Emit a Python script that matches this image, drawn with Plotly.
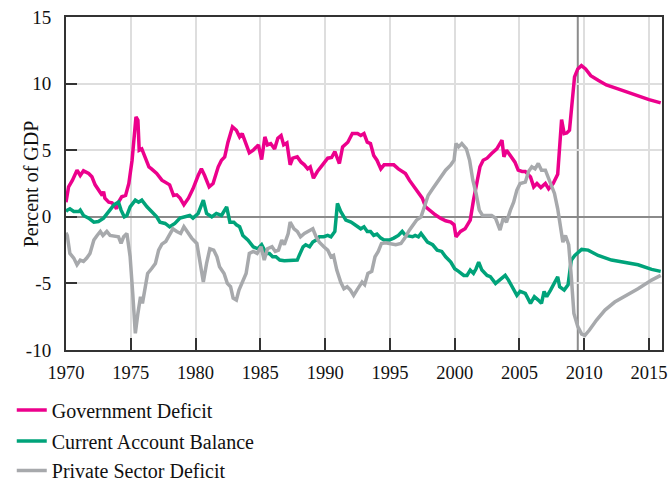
import plotly.graph_objects as go

# ---------------- data ----------------
gov_x = [1970.0, 1970.2, 1970.5, 1970.85, 1971.1, 1971.35, 1971.75, 1972.0, 1972.25, 1972.5,
         1972.8, 1972.9, 1973.0, 1973.3, 1973.55, 1973.8, 1973.9, 1974.05, 1974.3, 1974.6,
         1974.85, 1975.1, 1975.3, 1975.4, 1975.55, 1975.65, 1975.85, 1976.1, 1976.4, 1976.6,
         1977.0, 1977.4, 1977.7, 1978.0, 1978.3, 1978.55, 1978.8, 1979.1, 1979.45, 1979.8,
         1980.2, 1980.45, 1980.7, 1981.05, 1981.35, 1981.75, 1982.0, 1982.25, 1982.5, 1982.85,
         1983.15, 1983.4, 1983.6, 1983.9, 1984.15, 1984.45, 1984.85, 1985.1, 1985.35, 1985.55,
         1985.8, 1986.1, 1986.35, 1986.6, 1986.8, 1987.05, 1987.3, 1987.5, 1987.85, 1988.15,
         1988.4, 1988.65, 1988.85, 1989.1, 1989.4, 1989.8, 1990.2, 1990.5, 1990.75, 1991.1,
         1991.35, 1991.75, 1992.1, 1992.5, 1992.75, 1993.0, 1993.25, 1993.5, 1993.75, 1994.0,
         1994.3, 1994.55, 1994.9, 1995.3, 1995.65, 1995.95, 1996.2, 1996.5, 1996.85, 1997.25,
         1997.5, 1997.75, 1998.15, 1998.5, 1998.9, 1999.3, 1999.7, 1999.95, 2000.1, 2000.45,
         2000.8, 2001.2, 2001.45, 2001.7, 2001.95, 2002.2, 2002.5, 2002.85, 2003.25, 2003.65,
         2003.8, 2004.0, 2004.4, 2004.65, 2004.9, 2005.2, 2005.45, 2005.85, 2006.1, 2006.35,
         2006.65, 2007.0, 2007.25, 2007.6, 2007.95, 2008.1, 2008.25, 2008.45, 2008.65, 2008.86,
         2009.1, 2009.25, 2009.5, 2009.78, 2010.1, 2010.5, 2011.07, 2011.7, 2012.6, 2013.3,
         2014.15, 2015.0, 2015.9]
gov_y = [1.1, 2.25, 2.75, 3.5, 3.1, 3.45, 3.25, 3.0, 2.4, 2.0,
         1.6, 1.9, 1.4, 1.1, 1.05, 0.75, 0.6, 1.1, 1.5, 1.6,
         2.5, 4.25, 6.25, 7.5, 7.25, 5.0, 5.1, 4.5, 3.75, 3.6,
         3.25, 2.75, 2.6, 2.4, 1.6, 1.65, 1.4, 0.9, 1.4, 2.1,
         3.1, 3.6, 3.1, 2.25, 2.5, 3.75, 4.25, 4.5, 5.6, 6.75,
         6.5, 6.0, 6.25, 5.5, 4.8, 5.0, 5.4, 4.3, 6.0, 5.4,
         5.5, 5.1, 5.9, 6.1, 5.4, 5.55, 3.9, 4.4, 4.5, 4.1,
         3.9, 3.6, 3.75, 2.9, 3.4, 3.9, 4.4, 4.45, 4.9, 4.0,
         5.25, 5.6, 6.25, 6.25, 6.1, 6.25, 5.6, 5.5, 4.6, 4.25,
         3.6, 3.9, 3.9, 3.9, 3.6, 3.4, 3.25, 2.75, 2.25, 1.75,
         1.4, 0.75, 0.4, 0.15, -0.1, -0.3, -0.4, -0.6, -1.5, -1.1,
         -0.9, -0.25, 1.25, 2.5, 3.75, 4.25, 4.4, 4.75, 5.1, 5.75,
         4.5, 5.0, 4.5, 4.1, 3.5, 3.4, 3.4, 3.0, 2.25, 2.5,
         2.2, 2.5, 2.1, 2.5, 3.2, 5.0, 7.3, 6.25, 6.3, 6.5,
         9.0, 10.5, 11.1, 11.35, 11.1, 10.6, 10.25, 9.9, 9.6, 9.35,
         9.1, 8.8, 8.55]

ca_x = [1970.0, 1970.1, 1970.3, 1970.6, 1971.0, 1971.1, 1971.35, 1971.75, 1972.15, 1972.5,
        1972.9, 1973.3, 1973.7, 1974.05, 1974.25, 1974.5, 1974.7, 1974.95, 1975.35, 1975.6,
        1975.85, 1976.25, 1976.6, 1977.0, 1977.25, 1977.65, 1978.0, 1978.4, 1978.8, 1979.2,
        1979.55, 1979.8, 1980.2, 1980.6, 1980.85, 1981.25, 1981.6, 1982.0, 1982.4, 1982.65,
        1982.95, 1983.15, 1983.4, 1983.65, 1984.05, 1984.45, 1984.8, 1985.1, 1985.45, 1985.7,
        1985.95, 1986.2, 1986.5, 1986.85, 1987.4, 1987.85, 1988.0, 1988.3, 1988.5, 1988.8,
        1989.05, 1989.3, 1989.55, 1989.9, 1990.2, 1990.45, 1990.75, 1990.95, 1991.2, 1991.6,
        1992.0, 1992.4, 1992.75, 1993.0, 1993.25, 1993.5, 1993.75, 1994.0, 1994.3, 1994.55,
        1994.95, 1995.3, 1995.65, 1995.95, 1996.2, 1996.5, 1996.75, 1996.95, 1997.2, 1997.4,
        1997.65, 1997.9, 1998.3, 1998.65, 1999.0, 1999.3, 1999.7, 2000.0, 2000.3, 2000.7,
        2000.95, 2001.2, 2001.45, 2001.65, 2001.85, 2002.1, 2002.5, 2002.75, 2003.15, 2003.5,
        2003.9, 2004.15, 2004.5, 2004.8, 2005.05, 2005.45, 2005.85, 2006.15, 2006.45, 2006.7,
        2006.9, 2007.1, 2007.4, 2007.75, 2007.95, 2008.1, 2008.45, 2008.75, 2009.0, 2009.27,
        2009.8, 2010.3, 2011.07, 2012.1, 2013.1, 2014.15, 2015.2, 2015.9]
ca_y = [0.4, 0.5, 0.6, 0.4, 0.4, 0.5, 0.1, -0.1, -0.4, -0.35,
        -0.1, 0.4, 0.9, 1.1, 0.5, 0.0, 0.1, 0.75, 1.25, 1.1,
        1.25, 0.75, 0.4, 0.0, -0.4, -0.5, -0.75, -0.5, -0.1, 0.0,
        0.1, -0.1, 0.25, 1.25, 0.25, 0.0, 0.25, 0.1, 0.75, -0.4,
        -0.4, -0.6, -0.75, -1.4, -1.75, -2.25, -2.4, -2.1, -2.75, -2.75,
        -3.0, -3.0, -3.25, -3.3, -3.25, -3.25, -2.9, -2.25, -2.1, -2.25,
        -1.9, -1.75, -1.5, -1.5, -1.4, -1.5, -1.1, 1.0, 0.4, -0.25,
        -0.4, -0.7, -0.9, -0.75, -1.1, -1.1, -1.4, -1.3, -1.6, -1.75,
        -1.75, -1.6, -1.4, -1.1, -1.4, -1.45, -1.5, -1.4, -1.5, -1.25,
        -1.6, -1.9, -2.1, -2.5, -2.6, -3.0, -3.4, -3.9, -4.1, -4.4,
        -4.4, -4.0, -4.25, -3.9, -3.4, -4.0, -4.4, -4.5, -5.0, -4.75,
        -4.4, -4.75, -5.4, -5.9, -5.6, -5.75, -6.5, -6.0, -6.25, -6.5,
        -5.6, -6.0, -5.5, -4.9, -4.5, -5.25, -5.5, -5.1, -3.25, -2.9,
        -2.45, -2.5, -2.9, -3.25, -3.4, -3.6, -3.95, -4.1]

prv_x = [1970.0, 1970.1, 1970.3, 1970.6, 1970.85, 1971.1, 1971.35, 1971.6, 1971.85, 1972.15,
         1972.4, 1972.65, 1972.85, 1973.15, 1973.4, 1973.8, 1974.05, 1974.25, 1974.45, 1974.7,
         1974.95, 1975.15, 1975.35, 1975.55, 1975.75, 1975.9, 1976.1, 1976.3, 1976.6, 1976.9,
         1977.15, 1977.4, 1977.7, 1977.9, 1978.25, 1978.55, 1978.85, 1979.1, 1979.45, 1979.7,
         1980.1, 1980.35, 1980.6, 1980.85, 1981.1, 1981.4, 1981.65, 1981.85, 1982.2, 1982.45,
         1982.7, 1982.9, 1983.15, 1983.35, 1983.6, 1983.9, 1984.15, 1984.45, 1984.75, 1985.05,
         1985.3, 1985.55, 1985.9, 1986.15, 1986.4, 1986.65, 1986.85, 1987.15, 1987.3, 1987.6,
         1987.85, 1988.1, 1988.4, 1988.7, 1989.05, 1989.3, 1989.55, 1989.9, 1990.2, 1990.45,
         1990.65, 1990.9, 1991.2, 1991.45, 1991.7, 1991.95, 1992.2, 1992.45, 1992.6, 1992.85,
         1993.05, 1993.3, 1993.6, 1993.85, 1994.1, 1994.35, 1994.65, 1995.05, 1995.45, 1995.85,
         1996.15, 1996.5, 1996.75, 1997.05, 1997.4, 1997.65, 1997.95, 1998.3, 1998.65, 1999.0,
         1999.3, 1999.7, 1999.95, 2000.1, 2000.3, 2000.55, 2000.9, 2001.15, 2001.4, 2001.65,
         2001.9, 2002.15, 2002.5, 2002.85, 2003.15, 2003.5, 2003.75, 2004.0, 2004.3, 2004.55,
         2004.8, 2005.05, 2005.45, 2005.7, 2005.95, 2006.2, 2006.45, 2006.7, 2007.0, 2007.25,
         2007.5, 2007.7, 2007.95, 2008.15, 2008.35, 2008.55, 2008.8, 2009.0, 2009.2, 2009.5,
         2009.8, 2010.05, 2010.4, 2010.95, 2011.6, 2012.35, 2013.1, 2014.15, 2015.2, 2015.9]
prv_y = [-1.2, -1.4, -2.75, -3.1, -3.6, -3.25, -3.35, -3.1, -2.75, -1.75,
         -1.4, -1.1, -1.4, -1.1, -1.4, -1.45, -1.5, -2.0, -1.5, -1.25,
         -3.0, -5.75, -8.75, -7.25, -6.0, -6.5, -5.25, -4.25, -3.9, -3.5,
         -2.5, -2.05, -1.85, -1.5, -0.9, -1.1, -1.25, -0.75, -1.25, -1.6,
         -2.0, -3.5, -4.9, -3.5, -2.4, -2.5, -3.0, -3.75, -4.25, -5.0,
         -5.25, -6.1, -6.25, -5.5, -4.95, -4.25, -2.75, -2.6, -2.75, -2.25,
         -3.25, -2.4, -2.25, -2.6, -2.5, -1.75, -2.1, -1.25, -0.4, -0.9,
         -1.1, -1.5, -1.25, -1.1, -0.9, -1.5, -1.9, -2.25, -2.5, -3.0,
         -2.9, -4.0, -4.9, -5.4, -5.25, -5.5, -5.9, -5.5, -5.25, -4.9,
         -5.1, -4.25, -4.1, -3.0, -2.6, -2.0, -1.95, -2.0, -2.1, -2.0,
         -1.6, -1.0, -0.7, -0.25, 0.0, 0.75, 1.6, 2.1, 2.6, 3.0,
         3.5, 3.9, 4.25, 5.5, 5.25, 5.5, 5.1, 4.25, 2.75, 1.75,
         0.5, 0.1, 0.1, 0.1, -0.1, -1.0, -0.1, -0.4, 0.5, 1.1,
         2.0, 2.5, 2.6, 3.4, 3.75, 3.6, 4.0, 3.5, 3.5, 2.9,
         2.4, 1.75, 0.6, -0.75, -1.9, -1.4, -2.1, -4.5, -7.25, -8.25,
         -8.8, -8.9, -8.5, -7.75, -7.0, -6.4, -6.0, -5.4, -4.75, -4.4]

series_names = ["Government Deficit", "Current Account Balance", "Private Sector Deficit"]
series_colors = ["#ec008c", "#00a37a", "#a7a9ac"]
x_ticks = [1970, 1975, 1980, 1985, 1990, 1995, 2000, 2005, 2010, 2015]
y_ticks = [-10, -5, 0, 5, 10, 15]
y_title = "Percent of GDP"
marker_year = 2009.5

FONT = "Liberation Serif"

fig = go.Figure()
legend_ids = ["legend", "legend2", "legend3"]
for name, xs, ys, col, lg in zip(series_names, [gov_x, ca_x, prv_x], [gov_y, ca_y, prv_y],
                                 series_colors, legend_ids):
    fig.add_trace(go.Scatter(x=xs, y=ys, mode="lines", name=name,
                             line=dict(color=col, width=3.5), legend=lg))

fig.add_shape(type="line", xref="x", yref="paper", x0=marker_year, x1=marker_year,
              y0=0, y1=1, line=dict(color="#8c8c8c", width=2), layer="below")

fig.add_annotation(text=y_title, xref="paper", yref="paper", x=-0.059, y=0.5,
                   textangle=-90, showarrow=False, xanchor="center", yanchor="middle",
                   font=dict(family=FONT, size=20, color="#111"))

legend_common = dict(x=-0.091, xanchor="left", yanchor="middle", bgcolor="rgba(0,0,0,0)",
                     font=dict(family=FONT, size=20, color="#111"), borderwidth=0)
fig.update_layout(
    width=668, height=482,
    margin=dict(l=66, r=6, t=17, b=132, autoexpand=False),
    paper_bgcolor="white", plot_bgcolor="white",
    font=dict(family=FONT, size=19, color="#111"),
    legend=dict(y=-0.180, **legend_common),
    legend2=dict(y=-0.273, **legend_common),
    legend3=dict(y=-0.362, **legend_common),
    showlegend=True,
    xaxis=dict(range=[1970, 2016], tickvals=x_ticks, ticktext=[str(v) for v in x_ticks],
               ticks="inside", ticklen=12, tickwidth=2, tickcolor="#333",
               showline=True, mirror=True, linecolor="#333", linewidth=2,
               showgrid=True, gridcolor="#dedede", gridwidth=2, zeroline=False,
               ticklabelstandoff=5,
               tickfont=dict(family=FONT, size=18.5, color="#111")),
    yaxis=dict(range=[-10, 15], tickvals=y_ticks, ticktext=[str(v) for v in y_ticks],
               ticks="inside", ticklen=11, tickwidth=2, tickcolor="#333",
               showline=True, mirror=True, linecolor="#333", linewidth=2,
               showgrid=True, gridcolor="#dedede", gridwidth=2,
               zeroline=True, zerolinecolor="#8a8a8a", zerolinewidth=2,
               ticklabelstandoff=9,
               tickfont=dict(family=FONT, size=19, color="#111")),
)

fig.write_html("out.html", config={"displayModeBar": False},
               post_script="document.body.style.margin='0';")
